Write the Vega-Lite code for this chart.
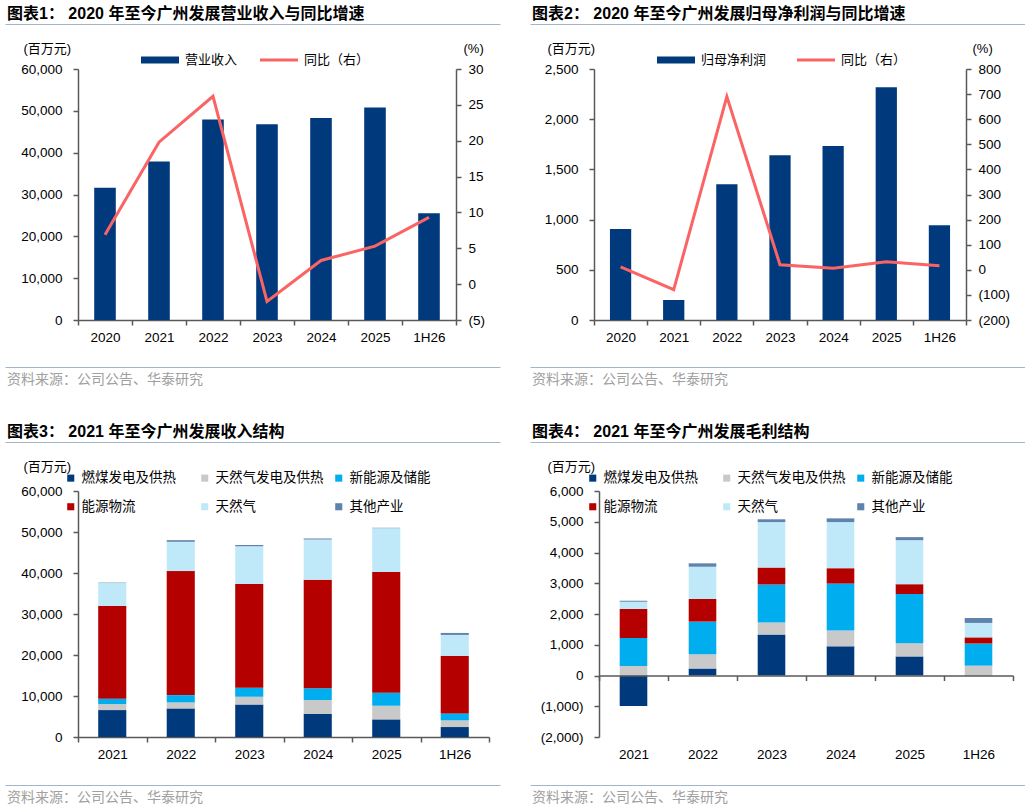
{
  "$schema": "https://vega.github.io/schema/vega-lite/v6.json",
  "padding": {"left": 5, "top": 5, "right": 0, "bottom": 0},
  "config": {
    "view": {"stroke": null},
    "font": "Liberation Sans, Noto Sans CJK SC",
    "axis": {
      "labelFont": "Liberation Sans, Noto Sans CJK SC",
      "labelFontSize": 13.5,
      "labelColor": "#000",
      "domainColor": "#595959",
      "tickColor": "#595959",
      "domainWidth": 1.5,
      "tickWidth": 1.5,
      "tickSize": 5,
      "grid": false,
      "labelFlush": false,
      "labelOverlap": false,
      "titleFont": "Liberation Sans, Noto Sans CJK SC",
      "titleColor": "#000",
      "titleFontWeight": "normal",
      "titleFontSize": 13
    },
    "legend": {"labelColor": "#000", "labelFontSize": 13, "labelFont": "Liberation Sans, Noto Sans CJK SC"}
  },
  "datasets": {
    "rev": [
      {"period": "2020", "rev": 31630, "yoy": 6.9},
      {"period": "2021", "rev": 37900, "yoy": 19.8},
      {"period": "2022", "rev": 47900, "yoy": 26.2},
      {"period": "2023", "rev": 46800, "yoy": -2.4},
      {"period": "2024", "rev": 48300, "yoy": 3.3},
      {"period": "2025", "rev": 50800, "yoy": 5.3},
      {"period": "1H26", "rev": 25500, "yoy": 9.3}
    ],
    "np": [
      {"period": "2020", "np": 906, "yoy": 12},
      {"period": "2021", "np": 199, "yoy": -79},
      {"period": "2022", "np": 1351, "yoy": 690},
      {"period": "2023", "np": 1640, "yoy": 20},
      {"period": "2024", "np": 1733, "yoy": 6},
      {"period": "2025", "np": 2317, "yoy": 32},
      {"period": "1H26", "np": 943, "yoy": 16}
    ],
    "revmix": [
      {"period": "2021", "seg": "燃煤发电及供热", "k": 1, "v": 6570},
      {"period": "2021", "seg": "天然气发电及供热", "k": 2, "v": 1460},
      {"period": "2021", "seg": "新能源及储能", "k": 3, "v": 1300},
      {"period": "2021", "seg": "能源物流", "k": 4, "v": 22620},
      {"period": "2021", "seg": "天然气", "k": 5, "v": 5600},
      {"period": "2021", "seg": "其他产业", "k": 6, "v": 100},
      {"period": "2022", "seg": "燃煤发电及供热", "k": 1, "v": 6970},
      {"period": "2022", "seg": "天然气发电及供热", "k": 2, "v": 1460},
      {"period": "2022", "seg": "新能源及储能", "k": 3, "v": 1790},
      {"period": "2022", "seg": "能源物流", "k": 4, "v": 30250},
      {"period": "2022", "seg": "天然气", "k": 5, "v": 7140},
      {"period": "2022", "seg": "其他产业", "k": 6, "v": 400},
      {"period": "2023", "seg": "燃煤发电及供热", "k": 1, "v": 7950},
      {"period": "2023", "seg": "天然气发电及供热", "k": 2, "v": 1860},
      {"period": "2023", "seg": "新能源及储能", "k": 3, "v": 2190},
      {"period": "2023", "seg": "能源物流", "k": 4, "v": 25300},
      {"period": "2023", "seg": "天然气", "k": 5, "v": 9250},
      {"period": "2023", "seg": "其他产业", "k": 6, "v": 250},
      {"period": "2024", "seg": "燃煤发电及供热", "k": 1, "v": 5600},
      {"period": "2024", "seg": "天然气发电及供热", "k": 2, "v": 3400},
      {"period": "2024", "seg": "新能源及储能", "k": 3, "v": 2920},
      {"period": "2024", "seg": "能源物流", "k": 4, "v": 26440},
      {"period": "2024", "seg": "天然气", "k": 5, "v": 9810},
      {"period": "2024", "seg": "其他产业", "k": 6, "v": 250},
      {"period": "2025", "seg": "燃煤发电及供热", "k": 1, "v": 4300},
      {"period": "2025", "seg": "天然气发电及供热", "k": 2, "v": 3320},
      {"period": "2025", "seg": "新能源及储能", "k": 3, "v": 3170},
      {"period": "2025", "seg": "能源物流", "k": 4, "v": 29440},
      {"period": "2025", "seg": "天然气", "k": 5, "v": 10700},
      {"period": "2025", "seg": "其他产业", "k": 6, "v": 100},
      {"period": "1H26", "seg": "燃煤发电及供热", "k": 1, "v": 2430},
      {"period": "1H26", "seg": "天然气发电及供热", "k": 2, "v": 1630},
      {"period": "1H26", "seg": "新能源及储能", "k": 3, "v": 1700},
      {"period": "1H26", "seg": "能源物流", "k": 4, "v": 14030},
      {"period": "1H26", "seg": "天然气", "k": 5, "v": 5110},
      {"period": "1H26", "seg": "其他产业", "k": 6, "v": 480}
    ],
    "gpmix": [
      {"period": "2021", "seg": "燃煤发电及供热", "k": 1, "v": -995},
      {"period": "2021", "seg": "天然气发电及供热", "k": 2, "v": 310},
      {"period": "2021", "seg": "新能源及储能", "k": 3, "v": 910},
      {"period": "2021", "seg": "能源物流", "k": 4, "v": 940},
      {"period": "2021", "seg": "天然气", "k": 5, "v": 240},
      {"period": "2021", "seg": "其他产业", "k": 6, "v": 30},
      {"period": "2022", "seg": "燃煤发电及供热", "k": 1, "v": 227},
      {"period": "2022", "seg": "天然气发电及供热", "k": 2, "v": 465},
      {"period": "2022", "seg": "新能源及储能", "k": 3, "v": 1060},
      {"period": "2022", "seg": "能源物流", "k": 4, "v": 735},
      {"period": "2022", "seg": "天然气", "k": 5, "v": 1050},
      {"period": "2022", "seg": "其他产业", "k": 6, "v": 110},
      {"period": "2023", "seg": "燃煤发电及供热", "k": 1, "v": 1330},
      {"period": "2023", "seg": "天然气发电及供热", "k": 2, "v": 390},
      {"period": "2023", "seg": "新能源及储能", "k": 3, "v": 1240},
      {"period": "2023", "seg": "能源物流", "k": 4, "v": 550},
      {"period": "2023", "seg": "天然气", "k": 5, "v": 1480},
      {"period": "2023", "seg": "其他产业", "k": 6, "v": 90},
      {"period": "2024", "seg": "燃煤发电及供热", "k": 1, "v": 950},
      {"period": "2024", "seg": "天然气发电及供热", "k": 2, "v": 510},
      {"period": "2024", "seg": "新能源及储能", "k": 3, "v": 1530},
      {"period": "2024", "seg": "能源物流", "k": 4, "v": 500},
      {"period": "2024", "seg": "天然气", "k": 5, "v": 1500},
      {"period": "2024", "seg": "其他产业", "k": 6, "v": 120},
      {"period": "2025", "seg": "燃煤发电及供热", "k": 1, "v": 620},
      {"period": "2025", "seg": "天然气发电及供热", "k": 2, "v": 430},
      {"period": "2025", "seg": "新能源及储能", "k": 3, "v": 1600},
      {"period": "2025", "seg": "能源物流", "k": 4, "v": 320},
      {"period": "2025", "seg": "天然气", "k": 5, "v": 1430},
      {"period": "2025", "seg": "其他产业", "k": 6, "v": 100},
      {"period": "1H26", "seg": "燃煤发电及供热", "k": 1, "v": 10},
      {"period": "1H26", "seg": "天然气发电及供热", "k": 2, "v": 310},
      {"period": "1H26", "seg": "新能源及储能", "k": 3, "v": 720},
      {"period": "1H26", "seg": "能源物流", "k": 4, "v": 200},
      {"period": "1H26", "seg": "天然气", "k": 5, "v": 470},
      {"period": "1H26", "seg": "其他产业", "k": 6, "v": 160}
    ]
  },
  "resolve": {"scale": {"color": "independent"}, "legend": {"color": "independent"}},
  "spacing": 35,
  "vconcat": [
    {
      "spacing": 30,
      "resolve": {"scale": {"color": "independent"}, "legend": {"color": "independent"}},
      "hconcat": [
        {
          "resolve": {"scale": {"color": "independent"}, "legend": {"color": "independent"}},
          "spacing": 20,
          "vconcat": [
            {
              "resolve": {"scale": {"color": "independent"}, "legend": {"color": "independent"}},
              "spacing": 13,
              "vconcat": [
                {
                  "width": 378, "height": 1,
                  "title": {"text": "图表1： 2020 年至今广州发展营业收入与同比增速", "anchor": "start", "frame": "bounds", "fontSize": 16, "fontWeight": "bold", "color": "#000", "offset": 0, "dx": 2},
                  "data": {"values": [{}]},
                  "mark": {"type": "point", "opacity": 0},
                  "encoding": {"x": {"datum": 0.5, "type": "quantitative",
                    "scale": {"domain": [0, 1], "range": [0, 495], "nice": false, "zero": false},
                    "axis": {"orient": "top", "position": -73, "domainColor": "#a3b5c9", "domainWidth": 1, "ticks": false, "labels": false, "title": null}}}
                },
                {
                  "width": 378, "height": 251,
                  "data": {"name": "rev"},
                  "encoding": {
                    "x": {"field": "period", "type": "ordinal", "sort": null,
                      "scale": {"paddingInner": 0, "paddingOuter": 0},
                      "axis": {"title": null, "labelAngle": 0, "tickBand": "extent", "labelPadding": 5}}
                  },
                  "layer": [
                    {
                      "mark": {"type": "bar", "width": {"band": 0.4}},
                      "encoding": {
                        "y": {"field": "rev", "type": "quantitative",
                          "scale": {"domain": [0, 60000], "nice": false},
                          "axis": {"values": [0, 10000, 20000, 30000, 40000, 50000, 60000], "format": ",.0f", "labelPadding": 11,
                            "title": "(百万元)", "titleAngle": 0, "titleAlign": "left", "titleBaseline": "middle", "titleX": -55, "titleY": -21}},
                        "color": {"datum": "营业收入",
                          "scale": {"domain": ["营业收入", "同比（右）"], "range": ["#003a7d", "#fa6464"]},
                          "legend": {"orient": "none", "legendX": 63, "legendY": -28, "direction": "horizontal", "title": null,
                            "padding": 0, "labelOffset": 6, "columnPadding": 22, "symbolSize": 1444, "symbolStrokeWidth": 0,
                            "symbolType": "M-1,-0.18H1V0.18H-1Z",
                            "encode": {"symbols": {"update": {
                              "shape": {"signal": "datum.value === '同比（右）' ? 'M-1,-0.075H1V0.075H-1Z' : 'M-1,-0.18H1V0.18H-1Z'"},
                              "fill": {"signal": "datum.value === '同比（右）' ? '#fa6464' : '#003a7d'"},
                              "stroke": {"value": "transparent"}}}}}}
                      }
                    },
                    {
                      "mark": {"type": "line", "strokeWidth": 3},
                      "encoding": {
                        "y": {"field": "yoy", "type": "quantitative",
                          "scale": {"domain": [-5, 30], "nice": false},
                          "axis": {"orient": "right", "values": [-5, 0, 5, 10, 15, 20, 25, 30], "labelPadding": 7,
                            "labelExpr": "datum.value < 0 ? '(' + format(-datum.value, ',') + ')' : format(datum.value, ',')",
                            "title": "(%)", "titleAngle": 0, "titleAlign": "left", "titleBaseline": "middle", "titleX": 7, "titleY": -21}},
                        "color": {"datum": "同比（右）"}
                      }
                    }
                  ],
                  "resolve": {"scale": {"y": "independent"}}
                }
              ]
            },
            {
              "width": 378, "height": 1,
              "title": {"text": "资料来源：公司公告、华泰研究", "orient": "bottom", "anchor": "start", "frame": "bounds", "fontSize": 14, "fontWeight": "normal", "color": "#a0a0a0", "offset": 3, "dx": 2},
              "data": {"values": [{}]},
              "mark": {"type": "point", "opacity": 0},
              "encoding": {"x": {"datum": 0.5, "type": "quantitative",
                "scale": {"domain": [0, 1], "range": [0, 495], "nice": false, "zero": false},
                "axis": {"orient": "top", "position": -73, "domainColor": "#a3b5c9", "domainWidth": 1, "ticks": false, "labels": false, "title": null}}}
            }
          ]
        },
        {
          "resolve": {"scale": {"color": "independent"}, "legend": {"color": "independent"}},
          "spacing": 20,
          "vconcat": [
            {
              "resolve": {"scale": {"color": "independent"}, "legend": {"color": "independent"}},
              "spacing": 13,
              "vconcat": [
                {
                  "width": 372, "height": 1,
                  "title": {"text": "图表2： 2020 年至今广州发展归母净利润与同比增速", "anchor": "start", "frame": "bounds", "fontSize": 16, "fontWeight": "bold", "color": "#000", "offset": 0, "dx": 2},
                  "data": {"values": [{}]},
                  "mark": {"type": "point", "opacity": 0},
                  "encoding": {"x": {"datum": 0.5, "type": "quantitative",
                    "scale": {"domain": [0, 1], "range": [0, 495], "nice": false, "zero": false},
                    "axis": {"orient": "top", "position": -64, "domainColor": "#a3b5c9", "domainWidth": 1, "ticks": false, "labels": false, "title": null}}}
                },
                {
                  "width": 372, "height": 251,
                  "data": {"name": "np"},
                  "encoding": {
                    "x": {"field": "period", "type": "ordinal", "sort": null,
                      "scale": {"paddingInner": 0, "paddingOuter": 0},
                      "axis": {"title": null, "labelAngle": 0, "tickBand": "extent", "labelPadding": 5}}
                  },
                  "layer": [
                    {
                      "mark": {"type": "bar", "width": {"band": 0.4}},
                      "encoding": {
                        "y": {"field": "np", "type": "quantitative",
                          "scale": {"domain": [0, 2500], "nice": false},
                          "axis": {"values": [0, 500, 1000, 1500, 2000, 2500], "format": ",.0f", "labelPadding": 11,
                            "title": "(百万元)", "titleAngle": 0, "titleAlign": "left", "titleBaseline": "middle", "titleX": -47, "titleY": -21}},
                        "color": {"datum": "归母净利润",
                          "scale": {"domain": ["归母净利润", "同比（右）"], "range": ["#003a7d", "#fa6464"]},
                          "legend": {"orient": "none", "legendX": 63, "legendY": -28, "direction": "horizontal", "title": null,
                            "padding": 0, "labelOffset": 6, "columnPadding": 30, "symbolSize": 1444, "symbolStrokeWidth": 0,
                            "symbolType": "M-1,-0.18H1V0.18H-1Z",
                            "encode": {"symbols": {"update": {
                              "shape": {"signal": "datum.value === '同比（右）' ? 'M-1,-0.075H1V0.075H-1Z' : 'M-1,-0.18H1V0.18H-1Z'"},
                              "fill": {"signal": "datum.value === '同比（右）' ? '#fa6464' : '#003a7d'"},
                              "stroke": {"value": "transparent"}}}}}}
                      }
                    },
                    {
                      "mark": {"type": "line", "strokeWidth": 3},
                      "encoding": {
                        "y": {"field": "yoy", "type": "quantitative",
                          "scale": {"domain": [-200, 800], "nice": false},
                          "axis": {"orient": "right", "values": [-200, -100, 0, 100, 200, 300, 400, 500, 600, 700, 800], "labelPadding": 7,
                            "labelExpr": "datum.value < 0 ? '(' + format(-datum.value, ',') + ')' : format(datum.value, ',')",
                            "title": "(%)", "titleAngle": 0, "titleAlign": "left", "titleBaseline": "middle", "titleX": 6, "titleY": -21}},
                        "color": {"datum": "同比（右）"}
                      }
                    }
                  ],
                  "resolve": {"scale": {"y": "independent"}}
                }
              ]
            },
            {
              "width": 372, "height": 1,
              "title": {"text": "资料来源：公司公告、华泰研究", "orient": "bottom", "anchor": "start", "frame": "bounds", "fontSize": 14, "fontWeight": "normal", "color": "#a0a0a0", "offset": 3, "dx": 2},
              "data": {"values": [{}]},
              "mark": {"type": "point", "opacity": 0},
              "encoding": {"x": {"datum": 0.5, "type": "quantitative",
                "scale": {"domain": [0, 1], "range": [0, 495], "nice": false, "zero": false},
                "axis": {"orient": "top", "position": -64, "domainColor": "#a3b5c9", "domainWidth": 1, "ticks": false, "labels": false, "title": null}}}
            }
          ]
        }
      ]
    },
    {
      "spacing": 30,
      "resolve": {"scale": {"color": "independent"}, "legend": {"color": "independent"}},
      "hconcat": [
        {
          "resolve": {"scale": {"color": "independent"}, "legend": {"color": "independent"}},
          "spacing": 21,
          "vconcat": [
            {
              "resolve": {"scale": {"color": "independent"}, "legend": {"color": "independent"}},
              "spacing": 14,
              "vconcat": [
                {
                  "width": 411, "height": 1,
                  "title": {"text": "图表3： 2021 年至今广州发展收入结构", "anchor": "start", "frame": "bounds", "fontSize": 16, "fontWeight": "bold", "color": "#000", "offset": 0, "dx": 2},
                  "data": {"values": [{}]},
                  "mark": {"type": "point", "opacity": 0},
                  "encoding": {"x": {"datum": 0.5, "type": "quantitative",
                    "scale": {"domain": [0, 1], "range": [0, 495], "nice": false, "zero": false},
                    "axis": {"orient": "top", "position": -73, "domainColor": "#a3b5c9", "domainWidth": 1, "ticks": false, "labels": false, "title": null}}}
                },
                {
                  "width": 411, "height": 246,
                  "data": {"name": "revmix"},
                  "mark": {"type": "bar", "width": {"band": 0.41}},
                  "encoding": {
                    "x": {"field": "period", "type": "ordinal", "sort": null,
                      "scale": {"paddingInner": 0, "paddingOuter": 0},
                      "axis": {"title": null, "labelAngle": 0, "tickBand": "extent", "labelPadding": 5}},
                    "y": {"field": "v", "type": "quantitative", "stack": "zero",
                      "scale": {"domain": [0, 60000], "nice": false},
                      "axis": {"values": [0, 10000, 20000, 30000, 40000, 50000, 60000], "format": ",.0f", "labelPadding": 11,
                        "title": "(百万元)", "titleAngle": 0, "titleAlign": "left", "titleBaseline": "middle", "titleX": -55, "titleY": -25}},
                    "order": {"field": "k", "type": "quantitative"},
                    "color": {"field": "seg", "type": "nominal",
                      "scale": {"domain": ["燃煤发电及供热", "天然气发电及供热", "新能源及储能", "能源物流", "天然气", "其他产业"],
                        "range": ["#003a7d", "#c9c9c9", "#00aeef", "#b50000", "#bfe9f9", "#5f83ad"]},
                      "legend": {"orient": "none", "legendX": -14, "legendY": -20, "direction": "horizontal", "columns": 3, "title": null,
                        "padding": 0, "symbolType": "square", "symbolSize": 50, "symbolStrokeWidth": 0, "labelFontSize": 13.5,
                        "labelOffset": 4, "columnPadding": 8, "rowPadding": 14, "gridAlign": "all"}}
                  }
                }
              ]
            },
            {
              "width": 411, "height": 1,
              "title": {"text": "资料来源：公司公告、华泰研究", "orient": "bottom", "anchor": "start", "frame": "bounds", "fontSize": 14, "fontWeight": "normal", "color": "#a0a0a0", "offset": 3, "dx": 2},
              "data": {"values": [{}]},
              "mark": {"type": "point", "opacity": 0},
              "encoding": {"x": {"datum": 0.5, "type": "quantitative",
                "scale": {"domain": [0, 1], "range": [0, 495], "nice": false, "zero": false},
                "axis": {"orient": "top", "position": -73, "domainColor": "#a3b5c9", "domainWidth": 1, "ticks": false, "labels": false, "title": null}}}
            }
          ]
        },
        {
          "resolve": {"scale": {"color": "independent"}, "legend": {"color": "independent"}},
          "spacing": 21,
          "vconcat": [
            {
              "resolve": {"scale": {"color": "independent"}, "legend": {"color": "independent"}},
              "spacing": 14,
              "vconcat": [
                {
                  "width": 414, "height": 1,
                  "title": {"text": "图表4： 2021 年至今广州发展毛利结构", "anchor": "start", "frame": "bounds", "fontSize": 16, "fontWeight": "bold", "color": "#000", "offset": 0, "dx": 2},
                  "data": {"values": [{}]},
                  "mark": {"type": "point", "opacity": 0},
                  "encoding": {"x": {"datum": 0.5, "type": "quantitative",
                    "scale": {"domain": [0, 1], "range": [0, 495], "nice": false, "zero": false},
                    "axis": {"orient": "top", "position": -69, "domainColor": "#a3b5c9", "domainWidth": 1, "ticks": false, "labels": false, "title": null}}}
                },
                {
                  "width": 414, "height": 246,
                  "data": {"name": "gpmix"},
                  "mark": {"type": "bar", "width": {"band": 0.4}},
                  "encoding": {
                    "x": {"field": "period", "type": "ordinal", "sort": null,
                      "scale": {"paddingInner": 0, "paddingOuter": 0},
                      "axis": {"title": null, "labelAngle": 0, "tickBand": "extent", "offset": -61.5, "labelPadding": 66.5, "zindex": 1}},
                    "y": {"field": "v", "type": "quantitative", "stack": "zero",
                      "scale": {"domain": [-2000, 6000], "nice": false},
                      "axis": {"values": [-2000, -1000, 0, 1000, 2000, 3000, 4000, 5000, 6000], "labelPadding": 11,
                        "labelExpr": "datum.value < 0 ? '(' + format(-datum.value, ',') + ')' : format(datum.value, ',')",
                        "title": "(百万元)", "titleAngle": 0, "titleAlign": "left", "titleBaseline": "middle", "titleX": -52, "titleY": -25}},
                    "order": {"field": "k", "type": "quantitative"},
                    "color": {"field": "seg", "type": "nominal",
                      "scale": {"domain": ["燃煤发电及供热", "天然气发电及供热", "新能源及储能", "能源物流", "天然气", "其他产业"],
                        "range": ["#003a7d", "#c9c9c9", "#00aeef", "#b50000", "#bfe9f9", "#5f83ad"]},
                      "legend": {"orient": "none", "legendX": -13, "legendY": -20, "direction": "horizontal", "columns": 3, "title": null,
                        "padding": 0, "symbolType": "square", "symbolSize": 50, "symbolStrokeWidth": 0, "labelFontSize": 13.5,
                        "labelOffset": 4, "columnPadding": 8, "rowPadding": 14, "gridAlign": "all"}}
                  }
                }
              ]
            },
            {
              "width": 414, "height": 1,
              "title": {"text": "资料来源：公司公告、华泰研究", "orient": "bottom", "anchor": "start", "frame": "bounds", "fontSize": 14, "fontWeight": "normal", "color": "#a0a0a0", "offset": 3, "dx": 2},
              "data": {"values": [{}]},
              "mark": {"type": "point", "opacity": 0},
              "encoding": {"x": {"datum": 0.5, "type": "quantitative",
                "scale": {"domain": [0, 1], "range": [0, 495], "nice": false, "zero": false},
                "axis": {"orient": "top", "position": -69, "domainColor": "#a3b5c9", "domainWidth": 1, "ticks": false, "labels": false, "title": null}}}
            }
          ]
        }
      ]
    }
  ]
}
